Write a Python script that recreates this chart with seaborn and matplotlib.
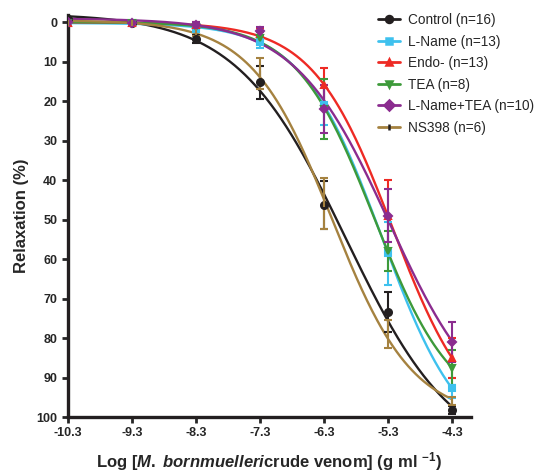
import numpy as np
import pandas as pd
import matplotlib
matplotlib.use("Agg")
import matplotlib.pyplot as plt
import seaborn as sns

sns.set_style("ticks")
plt.rcParams["font.family"] = ["Liberation Sans", "DejaVu Sans"]
plt.rcParams["font.weight"] = "bold"
plt.rcParams["mathtext.fontset"] = "custom"
plt.rcParams["mathtext.rm"] = "Liberation Sans:bold"
plt.rcParams["mathtext.it"] = "Liberation Sans:bold:italic"

LOG_DOSE = [-10.3, -9.3, -8.3, -7.3, -6.3, -5.3, -4.3]
GROUPS = ["Control (n=16)", "L-Name (n=13)", "Endo- (n=13)", "TEA (n=8)",
          "L-Name+TEA (n=10)", "NS398 (n=6)"]

control_mean = [-0.8, 0.3, 4.3, 15.2, 46.3, 73.4, 98.2]
control_sem = [0.3, 0.3, 1.0, 4.2, 6.0, 5.0, 1.0]
lname_mean = [0.2, 0.3, 1.5, 5.0, 21.0, 58.5, 92.7]
lname_sem = [0.3, 0.3, 1.0, 1.5, 5.0, 8.0, 2.5]
endo_mean = [0.3, 0.2, 0.8, 3.0, 16.0, 49.0, 85.0]
endo_sem = [0.3, 0.3, 0.8, 1.5, 4.5, 9.0, 5.0]
tea_mean = [0.2, 0.3, 1.2, 4.0, 22.0, 58.0, 87.5]
tea_sem = [0.3, 0.3, 0.8, 1.5, 7.5, 5.0, 4.5]
lnametea_mean = [0.0, 0.2, 0.8, 2.2, 22.0, 49.0, 81.0]
lnametea_sem = [0.3, 0.3, 0.8, 1.0, 6.0, 6.7, 5.0]
ns398_mean = [0.2, 0.3, 2.5, 13.0, 46.0, 79.0, 96.0]
ns398_sem = [0.3, 0.3, 1.0, 4.0, 6.5, 3.5, 1.0]

MEANS = [control_mean, lname_mean, endo_mean, tea_mean, lnametea_mean, ns398_mean]
SEMS = [control_sem, lname_sem, endo_sem, tea_sem, lnametea_sem, ns398_sem]

COLORS = ["#231f20", "#3ec1ee", "#ee2a24", "#3d9a3a", "#8b2c8f", "#a58240"]
MARKERS = ["o", "s", "^", "v", "D", "|"]


def fit_sigmoid(x, y):
    """
    4-parameter logistic fit: grid over logEC50 / Hill slope, linear solve for bottom/top.
    """
    x = np.asarray(x)
    y = np.asarray(y)
    c = np.arange(-7.5, -4.5, 0.01)
    h = np.arange(0.3, 1.6, 0.01)
    cc, hh = np.meshgrid(c, h, indexing="ij")
    f = 1.0 / (1.0 + 10 ** ((cc[..., None] - x) * hh[..., None]))
    fm = f.mean(-1, keepdims=True)
    ym = y.mean()
    b = ((f - fm) * (y - ym)).sum(-1) / ((f - fm) ** 2).sum(-1)
    a = ym - b * fm[..., 0]
    sse = ((a[..., None] + b[..., None] * f - y) ** 2).sum(-1)
    i, j = np.unravel_index(np.argmin(sse), sse.shape)
    return c[i], h[j], a[i, j], b[i, j]


x_fine = np.linspace(-10.3, -4.3, 300)
curves = []
for name, mean in zip(GROUPS, MEANS):
    c, h, a, b = fit_sigmoid(LOG_DOSE, mean)
    yy = a + b / (1.0 + 10 ** ((c - x_fine) * h))
    curves.append(pd.DataFrame({"x": x_fine, "y": yy, "group": name}))
df_curves = pd.concat(curves, ignore_index=True)

fig = plt.figure(figsize=(5.51, 4.72), dpi=100)
ax = fig.add_axes([0.123, 0.1165, 0.732, 0.8515])

sns.lineplot(data=df_curves, x="x", y="y", hue="group", hue_order=GROUPS,
             palette=COLORS, linewidth=1.7, ax=ax, legend=False, sort=False)

handles = []
for name, mean, sem, col, mk in zip(GROUPS, MEANS, SEMS, COLORS, MARKERS):
    ax.errorbar(LOG_DOSE, mean, yerr=sem, fmt=mk, color=col, ms=5 if mk != "D" else 4.5,
                mew=1.5, elinewidth=1.5, capsize=3, capthick=1.5, zorder=3)
    handles.append(plt.Line2D([], [], color=col, marker=mk, lw=2, ms=5,
                              mew=1.8, markeredgecolor=col if mk != "|" else "#231f20"))

fig.legend(handles, GROUPS, loc="upper left", bbox_to_anchor=(0.664, 0.998),
           frameon=False, handlelength=1.6, handletextpad=0.6, labelspacing=0.55,
           prop={"weight": "normal", "size": 9.8})

ax.set_xlim(-10.3, -4.0)
ax.set_ylim(100, -1.8)
ax.set_xticks(LOG_DOSE)
ax.set_xticklabels([f"{v:.1f}" for v in LOG_DOSE])
ax.set_yticks(range(0, 101, 10))
ax.tick_params(width=2, length=4, labelsize=9)
for lab in ax.get_xticklabels() + ax.get_yticklabels():
    lab.set_fontweight("bold")

sns.despine(ax=ax)
for s in ["left", "bottom"]:
    ax.spines[s].set_linewidth(2.4)
    ax.spines[s].set_color("#231f20")

ax.set_xlabel(r"Log [$\it{M.}$ $\it{bornmuelleri}$crude venom] (g ml $^{-1}$)",
              fontsize=12, fontweight="bold", labelpad=8)
ax.set_ylabel("Relaxation (%)", fontsize=12, fontweight="bold", labelpad=5)

fig.savefig("out.png", dpi=100)
